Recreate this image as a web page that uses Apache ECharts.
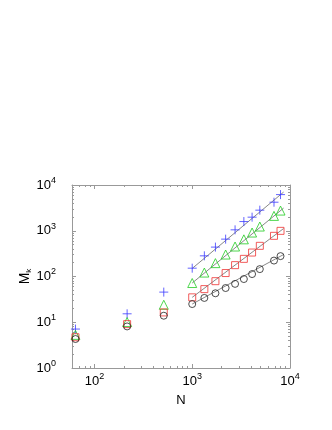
<!DOCTYPE html>
<html>
<head>
<meta charset="utf-8">
<script src="https://cdn.jsdelivr.net/npm/echarts@6/dist/echarts.min.js"></script>
<style>
html,body{margin:0;padding:0;background:#fff;}
#c{width:332px;height:430px;}
</style>
</head>
<body>
<div id="c"></div>
<script>
// System sizes N (cubes)
const N = [64, 216, 512, 1000, 1331, 1728, 2197, 2744, 3375, 4096, 4913, 6859, 8000];
// M_k series
const crosses   = [7.1, 15.3, 45.6, 152, 283, 439, 656, 1047, 1589, 1982, 2818, 4207, 6166];
const triangles = [5.3, 10.1, 24.1, 72, 122, 196, 302, 452, 649, 914, 1236, 2113, 2761];
const squares   = [4.7, 9.1, 16.4, 35, 53, 79, 119, 177, 243, 334, 468, 774, 995];
const circles   = [4.3, 8.1, 13.9, 25, 34, 43, 56, 69, 88, 113, 145, 223, 279];
// fit-line endpoints [N, M]
const fitN = [1000, 8600];
const fitCross = [150, 7000];
const fitTri = [72, 3130];
const fitSq = [35, 1117];
const fitCirc = [25, 302];
// axis ranges
const xMin = 59, xMax = 10000, yMin = 1, yMax = 10000;

const font = 'Liberation Sans, Arial, Helvetica, sans-serif';
const pairs = (xs, ys) => xs.map((x, i) => [x, ys[i]]);

function powLabel(v) {
  const e = Math.round(Math.log10(v));
  if (Math.abs(Math.pow(10, e) - v) > 1e-6 * v) return '';
  return '{b|10}{s|' + e + '}';
}
const labelRich = {
  b: {fontSize: 13, fontFamily: font, color: '#000'},
  s: {fontSize: 9, fontFamily: font, color: '#000', padding: [0, 0, 9, 0]}
};
const axisCommon = {
  type: 'log', logBase: 10,
  axisLine: {show: true, lineStyle: {color: '#999', width: 1}},
  axisTick: {show: true, inside: true, length: 4, lineStyle: {color: '#999'}},
  minorTick: {show: true, splitNumber: 9, length: 2, lineStyle: {color: '#999'}},
  splitLine: {show: false}, minorSplitLine: {show: false}
};

function scatter(name, data, symbol, size, color) {
  return {
    type: 'scatter', name, data, symbol, symbolSize: size,
    itemStyle: {color: 'rgba(0,0,0,0)', borderColor: color, borderWidth: 1},
    xAxisIndex: 0, yAxisIndex: 0, z: 3
  };
}
function fit(ys) {
  return {
    type: 'line', data: pairs(fitN, ys), symbol: 'none',
    lineStyle: {color: '#888', width: 1}, xAxisIndex: 0, yAxisIndex: 0, z: 2, silent: true
  };
}

const chart = echarts.init(document.getElementById('c'), null, {renderer: 'canvas'});
chart.setOption({
  animation: false,
  backgroundColor: '#fff',
  grid: {left: 72, right: 42, top: 185, bottom: 62, containLabel: false},
  xAxis: [
    Object.assign({}, axisCommon, {
      position: 'bottom', min: xMin, max: xMax,
      name: 'N', nameLocation: 'middle', nameGap: 26, nameMoveOverlap: false,
      nameTextStyle: {fontSize: 13, fontFamily: font, color: '#000'},
      axisLabel: {formatter: powLabel, rich: labelRich, margin: 4, showMinLabel: false}
    }),
    Object.assign({}, axisCommon, {
      position: 'top', min: xMin, max: xMax, axisLabel: {show: false}
    })
  ],
  yAxis: [
    Object.assign({}, axisCommon, {
      position: 'left', min: yMin, max: yMax,
      name: 'M{k|k}', nameLocation: 'middle', nameGap: 39, nameRotate: 90, nameMoveOverlap: false,
      nameTextStyle: {fontSize: 14, fontFamily: font, color: '#000',
        rich: {k: {fontSize: 8, fontFamily: font, color: '#000', padding: [8, 0, 0, 0]}}},
      axisLabel: {formatter: powLabel, rich: labelRich, margin: 16}
    }),
    Object.assign({}, axisCommon, {
      position: 'right', min: yMin, max: yMax, axisLabel: {show: false}
    })
  ],
  series: [
    fit(fitCross), fit(fitTri), fit(fitSq), fit(fitCirc),
    scatter('cross', pairs(N, crosses), 'path://M5,0 L5,10 M0,5 L10,5', 9, '#3b3bff'),
    scatter('tri', pairs(N, triangles), 'triangle', 9, '#22cc22'),
    scatter('sq', pairs(N, squares), 'rect', 7, '#ee3333'),
    scatter('circ', pairs(N, circles), 'circle', 7, '#222')
  ]
});
</script>
</body>
</html>
